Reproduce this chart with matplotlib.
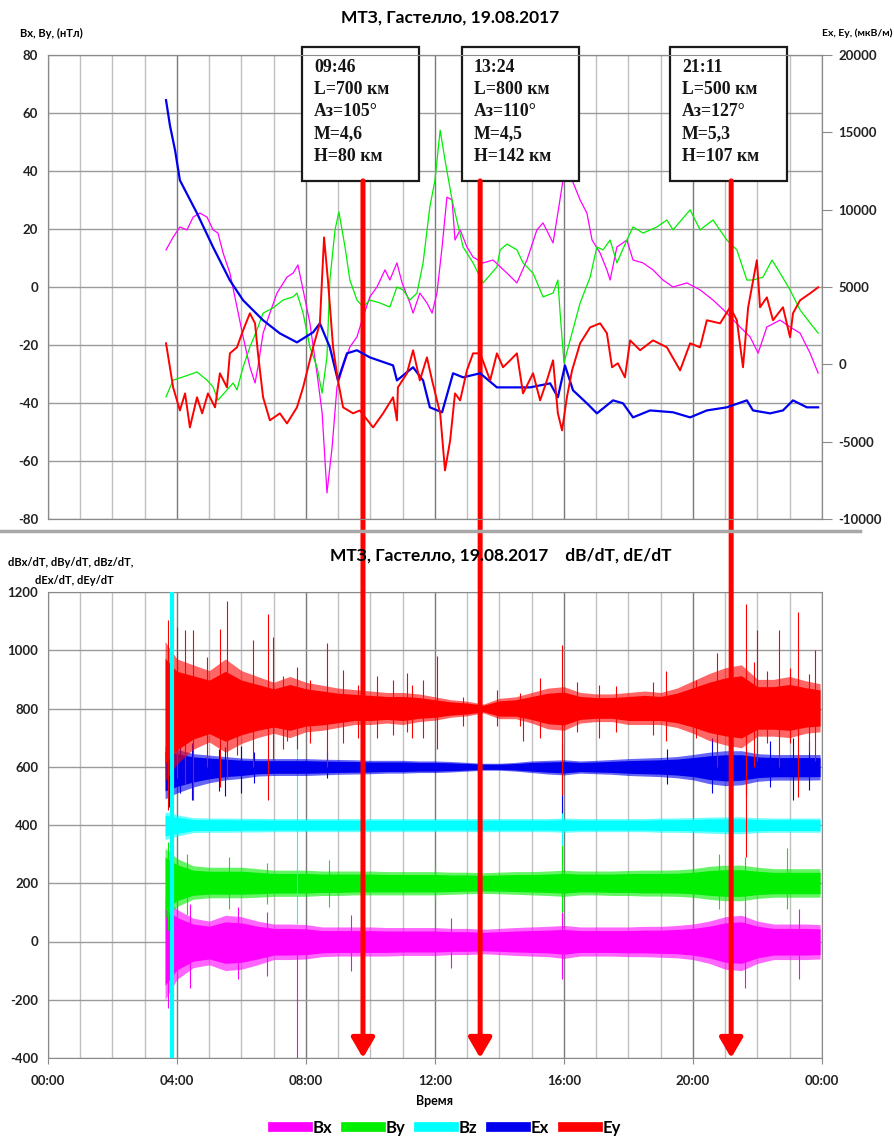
import matplotlib
matplotlib.use('Agg')
import matplotlib.pyplot as plt
from matplotlib.lines import Line2D
from matplotlib.patches import Rectangle

plt.rcParams['font.family'] = ['Lato', 'DejaVu Sans']

# ---- top panel: Bx, By (nT, left axis), Ex, Ey (right axis); time in hours ----
bx_t = [3.66, 3.88, 4.09, 4.31, 4.50, 4.71, 4.93, 5.12, 5.27, 5.43, 5.64, 5.86, 6.05, 6.26, 6.42,
        6.51, 6.67, 6.88, 7.10, 7.41, 7.60, 7.75, 7.91, 8.12, 8.34, 8.50, 8.65, 8.81, 8.96, 9.15,
        9.36, 9.58, 9.77, 9.98, 10.20, 10.45, 10.60, 10.82, 10.98, 11.22, 11.32, 11.53, 11.75,
        11.91, 12.06, 12.22, 12.37, 12.53, 12.62, 12.78, 12.99, 13.18, 13.49, 13.80, 14.23, 14.54,
        14.85, 15.16, 15.35, 15.66, 15.81, 15.97, 16.25, 16.50, 16.71, 16.87, 17.12, 17.33, 17.43,
        17.64, 17.95, 18.14, 18.45, 18.76, 19.07, 19.38, 19.81, 20.22, 20.62, 21.05, 21.46, 21.77,
        22.02, 22.29, 22.70, 23.01, 23.32, 23.63, 23.88]
bx_v = [12.8, 17.2, 20.7, 19.7, 24.1, 25.5, 24.1, 19.7, 18.6, 11.7, 4.8, -6.9, -17.2, -27.6, -33.1,
        -27.6, -15.9, -9.0, -2.1, 3.4, 4.8, 7.6, -1.0, -12.4, -29.7, -43.4, -71.0, -55.2, -34.5, -27.6,
        -20.7, -17.2, -10.3, -3.4, 0.0, 5.9, 2.4, 8.3, 1.4, -5.5, -9.0, -2.1, -5.5,
        -9.0, -2.1, 13.8, 31.0, 30.0, 16.2, 19.7, 13.8, 10.3, 8.3, 9.3, 4.8, 1.4,
        9.3, 19.7, 22.1, 15.2, 25.5, 36.9, 36.9, 30.0, 25.5, 16.2, 11.7, 5.9, 2.4,
        13.8, 16.2, 9.3, 8.3, 5.9, 2.4, 0.0, 1.4, -1.0, -4.5, -9.0, -13.8, -17.2,
        -22.8, -13.8, -11.4, -13.8, -15.9, -22.8, -29.7]

by_t = [3.66, 3.88, 4.19, 4.62, 4.93, 5.12, 5.27, 5.55, 5.74, 5.86, 6.05, 6.26, 6.48, 6.67, 6.98,
        7.29, 7.60, 7.72, 7.91, 8.12, 8.34, 8.50, 8.65, 8.74, 8.90, 9.02, 9.21, 9.36, 9.58, 9.77,
        9.98, 10.29, 10.60, 10.82, 11.01, 11.22, 11.44, 11.63, 11.84, 12.00, 12.16, 12.31, 12.53,
        12.87, 13.18, 13.49, 13.92, 14.02, 14.23, 14.54, 14.73, 15.04, 15.35, 15.66, 15.81, 15.88,
        16.00, 16.19, 16.50, 16.81, 17.02, 17.21, 17.43, 17.64, 17.95, 18.14, 18.45, 18.88, 19.19,
        19.38, 19.91, 20.22, 20.62, 21.05, 21.36, 21.67, 21.86, 22.17, 22.45, 22.70, 23.01, 23.32,
        23.63, 23.88]
by_v = [-37.9, -32.1, -31.0, -29.3, -32.1, -34.5, -39.0, -35.5, -33.1, -35.5, -27.6, -20.7, -14.8, -9.0, -7.2,
        -4.5, -3.4, -2.1, -9.0, -20.7, -27.6, -36.6, -24.1, 2.4, 19.7, 25.9, 13.8, 2.4, -4.5, -6.9,
        -4.5, -5.5, -6.9, 0.0, -1.0, -4.5, -2.1, 8.3, 27.6, 36.9, 54.1, 43.8, 30.0,
        13.8, 8.3, 1.4, 6.9, 12.8, 14.8, 12.8, 8.3, 4.8, -3.4, -2.1, 2.4, -9.0,
        -26.2, -18.3, -5.5, 3.4, 13.8, 12.8, 16.2, 8.3, 16.2, 20.7, 18.6, 20.7, 23.1,
        19.7, 26.6, 19.7, 23.1, 16.2, 12.8, 2.4, 2.4, 3.4, 9.3, 4.8, -1.0, -7.9,
        -12.4, -15.9]

ex_t = [3.66, 3.78, 3.94, 4.09, 4.62, 5.12, 5.64, 6.05, 6.67, 7.19, 7.72, 8.22, 8.43, 8.74, 8.99,
        9.27, 9.58, 9.98, 10.70, 10.82, 11.32, 11.63, 11.84, 12.22, 12.56, 12.87, 13.40, 13.92,
        14.95, 15.57, 15.81, 16.03, 16.28, 16.71, 17.02, 17.52, 17.83, 18.14, 18.67, 19.38, 19.91,
        20.43, 21.05, 21.67, 21.86, 22.39, 22.79, 23.10, 23.53, 23.88]
ex_v = [17080, 15460, 13840, 11900, 9770, 7570, 5430, 4140, 2850, 2000, 1420, 2070, 2650, 1100, -1040,
        710, 910, 450, -70, -1040, -190, -1040, -2780, -3100, -580, -840, -580, -1490,
        -1490, -1230, -2130, -70, -1680, -2520, -3170, -2330, -2520, -3430, -2980, -3100, -3430,
        -2980, -2780, -2330, -2980, -3170, -2980, -2330, -2780, -2780]

ey_t = [3.66, 3.78, 3.88, 4.09, 4.25, 4.40, 4.62, 4.78, 4.96, 5.18, 5.33, 5.55, 5.64, 5.86, 6.05,
        6.26, 6.42, 6.51, 6.67, 6.88, 7.19, 7.41, 7.72, 7.91, 8.22, 8.43, 8.56, 8.68, 8.84, 8.99,
        9.15, 9.46, 9.67, 10.08, 10.39, 10.70, 10.82, 10.85, 11.13, 11.32, 11.53, 11.75, 11.91,
        12.16, 12.31, 12.47, 12.62, 12.78, 12.99, 13.18, 13.40, 13.71, 13.92, 14.11, 14.33, 14.54,
        14.73, 15.04, 15.26, 15.47, 15.66, 15.81, 15.94, 16.09, 16.25, 16.50, 16.81, 17.12, 17.33,
        17.49, 17.67, 17.89, 18.05, 18.36, 18.76, 19.19, 19.60, 19.91, 20.22, 20.43, 20.84, 21.15,
        21.36, 21.55, 21.71, 21.98, 22.08, 22.29, 22.48, 22.79, 23.01, 23.10, 23.32, 23.63, 23.88]
ey_v = [1360, -190, -1490, -2980, -1880, -4080, -2130, -3170, -1880, -2780, -580, -1490, 710, 1100, 2200,
        3300, 2650, 710, -2130, -3620, -3170, -3820, -2780, -1490, 1100, 2650, 8210, 5430, 1100, -1040,
        -2780, -3170, -2980, -4080, -3170, -2130, -3620, -1490, -580, 910, -1040, 450, -1040,
        -3170, -6860, -4920, -1880, -2330, -390, 710, 710, -1040, 710, -190, 260, 710,
        -1880, -580, -2330, -1040, 260, -3170, -4270, -2130, -390, 1360, 2390, 2650, 2010,
        -190, 70, -840, 1550, 910, 1550, 1100, -390, 1360, 1100, 2850, 2650, 3690,
        2850, -190, 3690, 6730, 3690, 4330, 2850, 3690, 1750, 3300, 4140, 4590, 4980]

# ---- bottom panel: derivative traces as noise bands (offset baseline + band half-widths) ----
env_t = [3.63] + [4 + 0.5 * i for i in range(40)] + [23.94]
base = {'Bx': 0, 'By': 200, 'Bz': 400, 'Ex': 600, 'Ey': 800}
ey_up = [230, 170, 150, 130, 170, 130, 110, 90, 110, 90, 80, 70, 65, 60, 55, 55, 50, 40, 30, 25, 15,
         35, 40, 55, 70, 75, 55, 50, 50, 55, 60, 55, 70, 95, 120, 140, 150, 100, 100, 110, 95, 85]
ey_dn = [250, 190, 140, 115, 150, 120, 100, 85, 100, 80, 75, 65, 55, 55, 50, 55, 45, 40, 30, 25, 15,
         35, 35, 50, 70, 75, 50, 45, 45, 55, 55, 55, 65, 85, 110, 125, 135, 95, 95, 100, 85, 80]
ex_up = [70, 60, 45, 40, 35, 30, 28, 28, 28, 28, 26, 25, 24, 22, 22, 22, 20, 20, 18, 15, 12,
         12, 15, 20, 22, 24, 20, 22, 25, 28, 30, 32, 35, 42, 50, 55, 55, 45, 42, 42, 42, 42]
ex_dn = [110, 90, 70, 55, 45, 40, 32, 30, 30, 30, 28, 26, 25, 24, 22, 22, 20, 20, 18, 15, 12,
         12, 15, 20, 25, 28, 22, 24, 26, 30, 32, 34, 38, 45, 58, 65, 62, 50, 46, 46, 46, 45]
bz_up = [45, 35, 25, 24, 24, 23, 23, 22, 22, 22, 22, 22, 22, 22, 22, 22, 22, 22, 22, 22, 22,
         22, 22, 22, 22, 24, 22, 22, 22, 22, 22, 24, 24, 25, 27, 28, 28, 25, 24, 24, 24, 24]
bz_dn = [50, 38, 26, 25, 25, 24, 24, 23, 23, 23, 23, 23, 23, 23, 23, 23, 23, 23, 23, 23, 23,
         23, 23, 23, 23, 25, 23, 23, 23, 23, 23, 25, 25, 26, 28, 30, 30, 26, 25, 25, 25, 25]
by_up = [120, 85, 60, 55, 55, 55, 50, 45, 45, 45, 42, 42, 42, 42, 40, 40, 40, 40, 38, 38, 36,
         38, 40, 40, 42, 45, 42, 42, 42, 44, 45, 45, 46, 50, 58, 62, 62, 55, 50, 50, 50, 50]
by_dn = [120, 80, 55, 50, 50, 50, 48, 45, 45, 45, 42, 42, 40, 40, 40, 40, 40, 40, 38, 36, 35,
         36, 38, 40, 42, 45, 40, 40, 42, 42, 44, 44, 45, 48, 55, 60, 60, 52, 48, 48, 48, 48]
bx_up = [150, 110, 80, 70, 90, 85, 70, 60, 60, 58, 50, 50, 50, 50, 48, 48, 48, 48, 45, 45, 42,
         45, 48, 50, 52, 55, 50, 50, 50, 50, 52, 52, 55, 60, 70, 85, 90, 70, 60, 60, 60, 58]
bx_dn = [200, 130, 90, 80, 100, 95, 80, 62, 62, 60, 52, 50, 50, 50, 50, 48, 48, 48, 45, 45, 42,
         45, 48, 50, 52, 58, 50, 50, 50, 52, 52, 54, 56, 62, 75, 95, 100, 75, 62, 62, 62, 60]

# isolated spikes: time, top, bottom
ey_spk_t = [3.72, 3.80, 4.00, 4.25, 4.50, 4.93, 5.33, 5.55, 5.86, 6.36, 6.82, 6.98, 7.29, 7.40,
            7.72, 8.12, 8.65, 9.15, 9.60, 10.20, 10.70, 11.13, 11.30, 11.63, 12.06, 12.87, 13.92,
            14.64, 14.73, 15.26, 15.94, 16.40, 17.10, 17.60, 18.76, 19.15, 20.10, 20.74, 21.15,
            21.20, 21.64, 21.90, 21.98, 22.29, 22.67, 23.00, 23.26, 23.60, 23.78]
ey_spk_top = [1103, 1000, 1079, 1068, 1068, 976, 1074, 1170, 887, 1035, 1126, 1047, 910, 860,
              944, 898, 1024, 933, 880, 910, 898, 922, 880, 898, 979, 840, 864,
              852, 830, 906, 1019, 890, 880, 878, 890, 930, 897, 990, 1036,
              960, 1160, 960, 1068, 930, 1068, 940, 1130, 920, 1000]
ey_spk_bot = [451, 520, 560, 540, 485, 600, 530, 560, 640, 600, 485, 620, 660, 690,
              660, 680, 600, 680, 700, 700, 710, 720, 700, 700, 660, 740, 740,
              740, 690, 700, 504, 720, 700, 720, 710, 690, 700, 598, 640,
              650, 290, 600, 620, 680, 600, 680, 495, 650, 620]
ex_spk_t = [3.75, 4.10, 4.45, 5.30, 5.50, 6.00, 6.40, 8.65, 15.94, 19.20, 20.60, 21.20, 21.64,
            22.40, 23.10, 23.60]
ex_spk_top = [700, 690, 680, 660, 668, 670, 650, 650, 680, 660, 700, 690, 700, 690, 700, 690]
ex_spk_bot = [461, 509, 485, 518, 500, 510, 543, 560, 440, 540, 510, 520, 500, 530, 487, 520]
bz_spk_t = [3.85, 7.72, 15.94]
bz_spk_top = [1200, 720, 450]
bz_spk_bot = [-400, 60, 330]
by_spk_t = [3.72, 4.3, 5.6, 6.8, 8.7, 12.0, 15.94, 20.8, 21.6, 22.9]
by_spk_top = [340, 300, 290, 270, 280, 260, 330, 300, 290, 320]
by_spk_bot = [40, 90, 110, 130, 120, 140, 100, 110, 90, 110]
bx_spk_t = [3.72, 4.4, 5.9, 6.8, 7.72, 9.4, 12.5, 15.94, 21.6, 23.3]
bx_spk_top = [170, 130, 120, 100, 40, 90, 80, 100, 140, 110]
bx_spk_bot = [-230, -160, -130, -120, -400, -100, -90, -130, -160, -130]

# ---- events ----
event_time = ['09:46', '13:24', '21:11']
event_L = [700, 800, 500]
event_az = [105, 110, 127]
event_M = ['4,6', '4,5', '5,3']
event_H = [80, 142, 107]

x_ticks = [0, 4, 8, 12, 16, 20, 24]
x_labels = ['00:00', '04:00', '08:00', '12:00', '16:00', '20:00', '00:00']

colors = {'Bx': '#ff00ff', 'By': '#00ee00', 'Bz': '#00ffff', 'Ex': '#0000ee', 'Ey': '#ff0000'}

W, H = 895, 1140


def hm(s):
    h, m = s.split(':')
    return int(h) + int(m) / 60


def fx(x):
    return x / W


def fy(y):
    return 1 - y / H


fig = plt.figure(figsize=(W / 100, H / 100), dpi=100)
ax1 = fig.add_axes([fx(48), fy(519), 774 / W, 464 / H])
ax2 = fig.add_axes([fx(48), fy(1058), 774 / W, 466 / H])
tick_font = dict(fontsize=9.5, fontweight='bold', color='#222222')

for ax in (ax1, ax2):
    ax.set_xlim(0, 24)
    ax.set_xticks(x_ticks)
    ax.set_xticks(range(25), minor=True)
    ax.grid(which='major', axis='x', color='#7a7a7a', lw=1.0)
    ax.grid(which='minor', axis='x', color='#c0c0c0', lw=1.0)
    ax.grid(which='major', axis='y', color='#9a9a9a', lw=1.0)
    ax.set_axisbelow(True)
    for s in ax.spines.values():
        s.set_color('#8a8a8a')
    ax.tick_params(axis='y', length=0, pad=7)
    ax.tick_params(which='minor', length=0)

# top panel
ax1.set_ylim(-80, 80)
ax1.set_yticks(range(-80, 81, 20))
ax1.set_yticklabels([str(v) for v in range(-80, 81, 20)], **tick_font)
ax1.tick_params(axis='x', which='both', length=0, labelbottom=False)
ax1.plot(bx_t, bx_v, color=colors['Bx'], lw=0.9)
ax1.plot(by_t, by_v, color=colors['By'], lw=0.9)

ax1r = ax1.twinx()
ax1r.set_ylim(-10000, 20000)
ax1r.set_yticks(range(-10000, 20001, 5000))
ax1r.set_yticklabels([str(v) for v in range(-10000, 20001, 5000)], **tick_font)
ax1r.tick_params(axis='y', direction='out', length=7, color='#8a8a8a', pad=5)
for s in ax1r.spines.values():
    s.set_color('#8a8a8a')
ax1r.plot(ex_t, ex_v, color=colors['Ex'], lw=1.6)
ax1r.plot(ey_t, ey_v, color=colors['Ey'], lw=1.4)

# bottom panel
ax2.set_ylim(-400, 1200)
ax2.set_yticks(range(-400, 1201, 200))
ax2.set_yticklabels([str(v) for v in range(-400, 1201, 200)], **tick_font)
ax2.set_xticklabels(x_labels, **tick_font)
ax2.tick_params(axis='x', which='major', length=4, color='#8a8a8a', pad=8)
ax2.set_xlabel('Время', fontsize=9, fontweight='bold', labelpad=6)

bands = [('Bx', bx_up, bx_dn, bx_spk_t, bx_spk_top, bx_spk_bot),
         ('By', by_up, by_dn, by_spk_t, by_spk_top, by_spk_bot),
         ('Bz', bz_up, bz_dn, bz_spk_t, bz_spk_top, bz_spk_bot),
         ('Ex', ex_up, ex_dn, ex_spk_t, ex_spk_top, ex_spk_bot),
         ('Ey', ey_up, ey_dn, ey_spk_t, ey_spk_top, ey_spk_bot)]
for name, up, dn, st, stop, sbot in bands:
    b = base[name]
    # fuzzy outer edge, solid core
    ax2.fill_between(env_t, [b + u for u in up], [b - d for d in dn],
                     color=colors[name], alpha=0.6, lw=0, zorder=3)
    ax2.fill_between(env_t, [b + 0.75 * u for u in up], [b - 0.75 * d for d in dn],
                     color=colors[name], lw=0, zorder=3)
    ax2.vlines(st, sbot, stop, color=colors[name], lw=0.8, zorder=3)
ax2.vlines(bz_spk_t[:1], bz_spk_bot[:1], bz_spk_top[:1], color=colors['Bz'], lw=3, zorder=4)

# event boxes and arrows
box_dx = [-1.89, -0.56, -1.89]
for i, et in enumerate(event_time):
    t = hm(et)
    x0 = t + box_dx[i]
    ax1.add_patch(Rectangle((x0, 36.6), 3.63, 46.2, facecolor='white', edgecolor='#1a1a1a',
                            lw=1.6, clip_on=False, zorder=20))
    txt = f'{et}\nL={event_L[i]} км\nАз={event_az[i]}°\nM={event_M[i]}\nH={event_H[i]} км'
    ax1.text(x0 + 0.37, 78.6, txt, family=['Liberation Serif', 'DejaVu Serif'], fontsize=12.8,
             fontweight='bold', color='#151515', va='top', ha='left', linespacing=1.4,
             zorder=21, clip_on=False)
    ax2.annotate('', xy=(t, -400), xycoords=ax2.transData, xytext=(t, 36.6),
                 textcoords=ax1.transData, annotation_clip=False, zorder=30,
                 arrowprops=dict(arrowstyle='-|>,head_length=0.6,head_width=0.35',
                                 color='#ff0000', lw=3.6, mutation_scale=20, shrinkA=0, shrinkB=0))

# titles and axis labels
fig.text(fx(450), fy(18), 'МТЗ, Гастелло, 19.08.2017', ha='center', va='center',
         fontsize=12.5, fontweight='bold')
fig.text(fx(330), fy(556), 'МТЗ, Гастелло, 19.08.2017    dB/dT, dE/dT', ha='left', va='center',
         fontsize=12.5, fontweight='bold')
fig.text(fx(20), fy(33), 'Bx, By, (нТл)', ha='left', va='center', fontsize=8, fontweight='bold')
fig.text(fx(893), fy(33), 'Ex, Ey, (мкВ/м)', ha='right', va='center', fontsize=7.5,
         fontweight='bold')
fig.text(fx(8), fy(563), 'dBx/dT, dBy/dT, dBz/dT,', ha='left', va='center', fontsize=8,
         fontweight='bold')
fig.text(fx(35), fy(580), 'dEx/dT, dEy/dT', ha='left', va='center', fontsize=8, fontweight='bold')
fig.add_artist(Line2D([0, fx(860)], [fy(531), fy(531)], color='#a8a8a8', lw=2.5))

handles = [Line2D([], [], color=colors[n], lw=7) for n in colors]
fig.legend(handles, list(colors), loc='center', bbox_to_anchor=(fx(447), fy(1128)), ncol=5,
           frameon=False, handlelength=2.1, handletextpad=0.3, columnspacing=0.8,
           prop=dict(size=12, weight='bold'))

fig.savefig('out.png', dpi=100)
